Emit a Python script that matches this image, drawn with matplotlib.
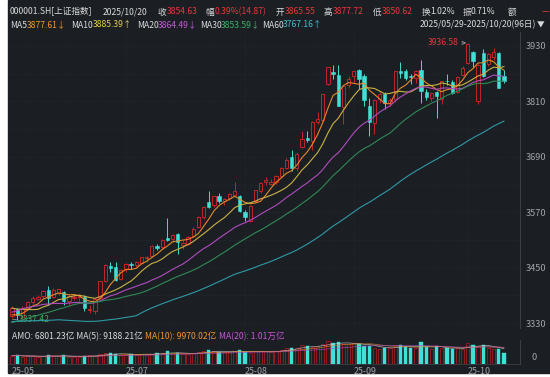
import numpy as np
import pandas as pd
import matplotlib
matplotlib.use("Agg")
import matplotlib.pyplot as plt
from matplotlib.patches import Rectangle

plt.rcParams['font.family'] = ['Noto Sans CJK SC', 'DejaVu Sans']

# ---- data: 000001.SH daily candles 2025/05/29 - 2025/10/20 ----
dates = (["2025-05-29", "2025-05-30"]
         + ["2025-06-%02d" % d for d in [3, 4, 5, 6, 9, 10, 11, 12, 13, 16, 17, 18, 19, 20, 23, 24, 25, 26, 27, 30]]
         + ["2025-07-%02d" % d for d in [1, 2, 3, 4, 7, 8, 9, 10, 11, 14, 15, 16, 17, 18, 21, 22, 23, 24, 25, 28, 29, 30, 31]]
         + ["2025-08-%02d" % d for d in [1, 4, 5, 6, 7, 8, 11, 12, 13, 14, 15, 18, 19, 20, 21, 22, 25, 26, 27, 28, 29]]
         + ["2025-09-%02d" % d for d in [1, 2, 3, 4, 5, 8, 9, 10, 11, 12, 15, 16, 17, 18, 19, 22, 23, 24, 25, 26, 29, 30]]
         + ["2025-10-%02d" % d for d in [9, 10, 13, 14, 15, 16, 17, 20]])

opens = [3345, 3360,
         3344, 3362, 3376, 3382, 3388, 3402, 3386, 3396, 3397, 3377, 3385, 3386, 3386, 3358, 3355, 3385, 3420, 3453, 3452, 3426,
         3446, 3458, 3455, 3460, 3470, 3475, 3497, 3494, 3515, 3512, 3522, 3500, 3502, 3518, 3538, 3560, 3593, 3585, 3605, 3594, 3600, 3608, 3605,
         3570, 3550, 3595, 3615, 3636, 3632, 3635, 3648, 3666, 3690, 3666, 3712, 3730, 3725, 3765, 3770, 3848, 3874, 3868, 3797, 3845,
         3866, 3879, 3866, 3800, 3763, 3815, 3826, 3806, 3815, 3875, 3876, 3864, 3860, 3878, 3830, 3818, 3830, 3815, 3855, 3852, 3830, 3868,
         3894, 3918, 3810, 3915, 3890, 3906, 3915, 3865.55]
highs = [3366, 3362,
         3366, 3378, 3388, 3390, 3402, 3410, 3405, 3404, 3400, 3390, 3392, 3392, 3390, 3368, 3385, 3422, 3458, 3462, 3462, 3446,
         3460, 3462, 3465, 3474, 3476, 3498, 3502, 3512, 3558, 3522, 3524, 3510, 3518, 3538, 3562, 3583, 3615, 3606, 3612, 3600, 3611, 3636, 3608,
         3575, 3585, 3618, 3635, 3646, 3642, 3650, 3668, 3688, 3704, 3700, 3746, 3746, 3767, 3788, 3826, 3884, 3888, 3888, 3845, 3866,
         3876, 3880, 3870, 3818, 3815, 3830, 3830, 3818, 3876, 3895, 3880, 3870, 3878, 3899, 3836, 3830, 3832, 3855, 3870, 3856, 3866, 3886,
         3936.58, 3920, 3892, 3924, 3915, 3925, 3918, 3877.72]
lows = [3340, 3337.42,
        3340, 3360, 3372, 3380, 3385, 3370, 3384, 3390, 3370, 3370, 3380, 3378, 3355, 3352, 3350, 3383, 3418, 3440, 3420, 3424,
        3440, 3448, 3452, 3458, 3462, 3473, 3488, 3490, 3508, 3505, 3480, 3490, 3498, 3516, 3536, 3555, 3580, 3582, 3590, 3585, 3596, 3605, 3570,
        3550, 3548, 3592, 3612, 3630, 3630, 3632, 3645, 3664, 3660, 3660, 3708, 3722, 3705, 3760, 3765, 3845, 3858, 3800, 3762, 3838,
        3852, 3836, 3800, 3735, 3740, 3806, 3794, 3800, 3808, 3860, 3856, 3848, 3850, 3806, 3812, 3810, 3775, 3805, 3845, 3825, 3828, 3866,
        3890, 3885, 3805, 3863, 3887, 3900, 3838, 3850.62]
closes = [3363.45, 3347.49,
          3361.98, 3376.20, 3384.82, 3385.36, 3399.77, 3384.40, 3402.32, 3402.66, 3377.00, 3388.73, 3387.40, 3388.81, 3362.11, 3359.90,
          3381.58, 3420.57, 3455.97, 3448.45, 3424.23, 3444.43,
          3457.75, 3454.79, 3461.15, 3472.32, 3473.13, 3497.48, 3493.05, 3509.68, 3510.18, 3519.65, 3505.00, 3503.78, 3516.83, 3534.48,
          3559.79, 3581.86, 3582.30, 3605.73, 3593.66, 3597.94, 3609.71, 3615.72, 3573.21,
          3559.95, 3583.31, 3617.60, 3633.99, 3639.67, 3635.13, 3647.55, 3665.92, 3683.46, 3666.44, 3696.77, 3728.03, 3727.29, 3766.21,
          3771.10, 3825.76, 3883.56, 3868.38, 3800.35, 3843.60, 3857.93,
          3875.53, 3858.13, 3813.56, 3765.88, 3812.51, 3826.84, 3807.29, 3812.22, 3875.31, 3870.60, 3860.50, 3861.87, 3876.34, 3831.66,
          3820.09, 3828.58, 3821.83, 3853.64, 3853.30, 3828.11, 3862.53, 3882.78,
          3933.97, 3897.03, 3889.50, 3865.23, 3912.21, 3916.23, 3839.76, 3854.63]
# closes before the window, needed for the moving averages
prior_closes = [3316.93, 3324.21, 3341.96, 3381.10, 3372.55, 3366.16, 3379.83, 3371.92, 3358.73, 3419.56, 3426.13, 3429.76,
                3426.43, 3408.95, 3364.83, 3370.03, 3369.98, 3368.70, 3373.75, 3351.31, 3335.75,
                3348.44, 3350.13, 3342.01, 3096.58, 3145.55, 3186.81, 3223.64, 3238.23, 3262.81, 3267.66, 3276.00, 3280.34,
                3276.73, 3291.43, 3299.76, 3296.36, 3297.29, 3295.06, 3288.41, 3286.65, 3279.03,
                3316.11, 3342.67, 3352.00, 3342.00, 3369.24, 3374.87, 3403.95, 3380.82, 3367.46, 3367.58, 3380.48, 3387.57,
                3380.19, 3348.37, 3346.84, 3340.69, 3339.93]
# turnover, 亿
amount = [5100, 5400,
          4300, 4600, 4700, 4300, 4600, 5500, 4800, 4600, 5200, 4200, 4300, 4500, 4900, 5300, 4800, 5900, 6700, 6500, 6000, 5600,
          5700, 5800, 5500, 6000, 5500, 6200, 6700, 6400, 7700, 6300, 6800, 5900, 5800, 6500, 7300, 7600, 8400, 7700, 7500, 7000, 7400, 8000, 8500,
          7200, 6800, 7600, 7600, 7800, 7300, 7800, 8200, 9800, 9700, 9700, 11300, 11000, 10400, 10800, 11800, 13700, 12800, 13200, 12000, 11900,
          12600, 12100, 10900, 11100, 9600, 8900, 9600, 9700, 11500, 11500, 10300, 9700, 9600, 13300, 10000, 8900, 10600, 9600, 9700, 9000, 9500, 9200,
          12500, 11600, 10959, 11500, 9500, 9000, 9140, 6801.23]

BG = "#1b1e23"
GRID = "#2a2e35"
RED = "#c0262b"
RED_TXT = "#e5383b"
CYAN = "#3fe0d6"
GREY = "#a0a4aa"
WHITE = "#d8dadc"
MA_COLORS = {5: "#e08a2a", 10: "#c9b244", 20: "#b04cc0", 30: "#2f8a55", 60: "#2e9aa6"}

W, H = 550, 377
fig = plt.figure(figsize=(W / 100, H / 100), dpi=100, facecolor="white")
fig.patches.append(Rectangle((8 / W, 1 - 373 / H), (W - 8) / W, 373 / H,
                             transform=fig.transFigure, color=BG, zorder=-5))


def ftxt(x, y, s, color=WHITE, size=6.2, **kw):
    fig.text(x / W, 1 - y / H, s, color=color, fontsize=size, va="center", ha="left", **kw)


opens = np.array(opens, float)
highs = np.array(highs, float)
lows = np.array(lows, float)
closes = np.array(closes, float)
amount = np.array(amount, float)
x = np.arange(len(closes))
up = closes >= opens
body_hi = np.maximum(opens, closes)
body_lo = np.minimum(opens, closes)
body_h = np.maximum(body_hi - body_lo, 0.9)

# ---- price panel ----
ax = fig.add_axes((8 / W, 1 - 328 / H, 512 / W, 296 / H))
ax.set_facecolor(BG)
ax.set_xlim(-0.77, 98.1)
ax.set_ylim(3319.2, 3960.3)
for v in np.arange(3330, 3961, 60):
    ax.axhline(v, color=GRID, lw=0.5, ls=(0, (1, 1.5)), zorder=0)
for i in [22, 45, 66, 88]:
    ax.axvline(i, color=GRID, lw=0.5, ls=(0, (1, 1.5)), zorder=0)

ax.vlines(x[up], body_hi[up], highs[up], color=RED, lw=0.7, zorder=2)
ax.vlines(x[up], lows[up], body_lo[up], color=RED, lw=0.7, zorder=2)
ax.vlines(x[~up], lows[~up], highs[~up], color=CYAN, lw=0.7, zorder=2)
ax.bar(x[up], body_h[up], bottom=body_lo[up], width=0.64, facecolor=BG, edgecolor=RED, lw=0.7, zorder=3)
ax.bar(x[~up], body_h[~up], bottom=body_lo[~up], width=0.64, color=CYAN, edgecolor=CYAN, lw=0.4, zorder=3)

all_closes = pd.Series(list(prior_closes) + list(closes))
n_prior = len(prior_closes)
for n, c in MA_COLORS.items():
    ma = all_closes.rolling(n).mean().iloc[n_prior:].to_numpy()
    ax.plot(x, ma, color=c, lw=0.8, zorder=4)

i_hi = int(np.argmax(highs))
ax.annotate(f"{highs[i_hi]:.2f}", xy=(i_hi - 0.3, highs[i_hi]), xytext=(i_hi - 1.7, highs[i_hi]),
            color=RED_TXT, fontsize=6.2, ha="right", va="center",
            arrowprops=dict(arrowstyle="->", color=GREY, lw=0.5, shrinkA=0, shrinkB=0))
i_lo = int(np.argmin(lows))
ax.annotate(f"{lows[i_lo]:.2f}", xy=(i_lo - 0.9, lows[i_lo]), xytext=(i_lo + 0.4, lows[i_lo]),
            color="#3cb05a", fontsize=6.2, ha="left", va="center",
            arrowprops=dict(arrowstyle="-", color=GREY, lw=0.5, shrinkA=0, shrinkB=0))

ax.yaxis.tick_right()
ax.set_yticks(np.arange(3330, 3931, 120))
ax.tick_params(axis="y", length=0, pad=4, labelsize=6.6, labelcolor=GREY)
ax.set_xticks([])
for s in ["top", "left", "bottom"]:
    ax.spines[s].set_visible(False)
ax.spines["right"].set_color("#3a3e45")
ax.spines["right"].set_linewidth(0.8)

# ---- turnover panel ----
axv = fig.add_axes((8 / W, 1 - 364 / H, 512 / W, 24 / H))
axv.set_facecolor(BG)
axv.set_xlim(-0.77, 98.1)
axv.set_ylim(0, 14500)
axv.bar(x[up], amount[up], width=0.64, facecolor=BG, edgecolor="#8e1c20", lw=0.7)
axv.bar(x[~up], amount[~up], width=0.64, color=CYAN, edgecolor=CYAN, lw=0.3)
amt = pd.Series(amount)
axv.plot(x, amt.rolling(5, min_periods=1).mean(), color="#d0d0d0", lw=0.5, alpha=0.8)
axv.plot(x, amt.rolling(10, min_periods=1).mean(), color=MA_COLORS[5], lw=0.5, alpha=0.8)
axv.plot(x, amt.rolling(20, min_periods=1).mean(), color=MA_COLORS[20], lw=0.5, alpha=0.8)

months = [d[:7] for d in dates]
month_idx = [0] + [i for i in range(1, len(months)) if months[i] != months[i - 1]]
month_idx = [i for i in month_idx if not dates[i].startswith("2025-06")]
axv.set_xticks(month_idx)
axv.set_xticklabels([dates[i][2:7] for i in month_idx], ha="left")
axv.tick_params(axis="x", length=0, pad=2, labelsize=6.4, labelcolor=GREY)
axv.set_yticks([])
for s in ["top", "left"]:
    axv.spines[s].set_visible(False)
axv.spines["right"].set_color("#3a3e45")
axv.spines["bottom"].set_color("#3a3e45")
axv.spines["bottom"].set_linewidth(0.6)
ftxt(532, 358, "0", GREY, size=6.6)

# ---- header text ----
ftxt(10, 12, "000001.SH[上证指数]")
ftxt(103, 12, "2025/10/20")
ftxt(157, 12, "收")
ftxt(167, 12, "3854.63", RED_TXT)
ftxt(205, 12, "幅")
ftxt(215, 12, "0.39%(14.87)", RED_TXT)
ftxt(276, 12, "开")
ftxt(285, 12, "3865.55", RED_TXT)
ftxt(323, 12, "高")
ftxt(333, 12, "3877.72", RED_TXT)
ftxt(373, 12, "低")
ftxt(382, 12, "3850.62", RED_TXT)
ftxt(422, 12, "换")
ftxt(430, 12, "1.02%")
ftxt(463, 12, "振")
ftxt(471, 12, "0.71%")
ftxt(508, 12, "额")
ftxt(542, 12, "—", RED_TXT)

ftxt(10, 25, "MA5")
ftxt(27, 25, "3877.61↓", "#f0952e")
ftxt(71, 25, "MA10")
ftxt(93, 25, "3885.39↑", "#e2cf4a")
ftxt(137, 25, "MA20")
ftxt(158, 25, "3864.49↓", "#c45ad6")
ftxt(200, 25, "MA30")
ftxt(221, 25, "3853.59↓", "#3fb068")
ftxt(262, 25, "MA60")
ftxt(283, 25, "3767.16↑", "#3cc3d0")
ftxt(420, 25, "2025/05/29-2025/10/20(96日)", WHITE)
ftxt(537, 25, "▼", WHITE, size=5.5)

ftxt(12, 337, "AMO: 6801.23亿 MA(5): 9188.21亿")
ftxt(145, 337, "MA(10): 9970.02亿", "#f0952e")
ftxt(219, 337, "MA(20): 1.01万亿", "#c45ad6")

fig.savefig("out.png", dpi=100, facecolor=fig.get_facecolor())
